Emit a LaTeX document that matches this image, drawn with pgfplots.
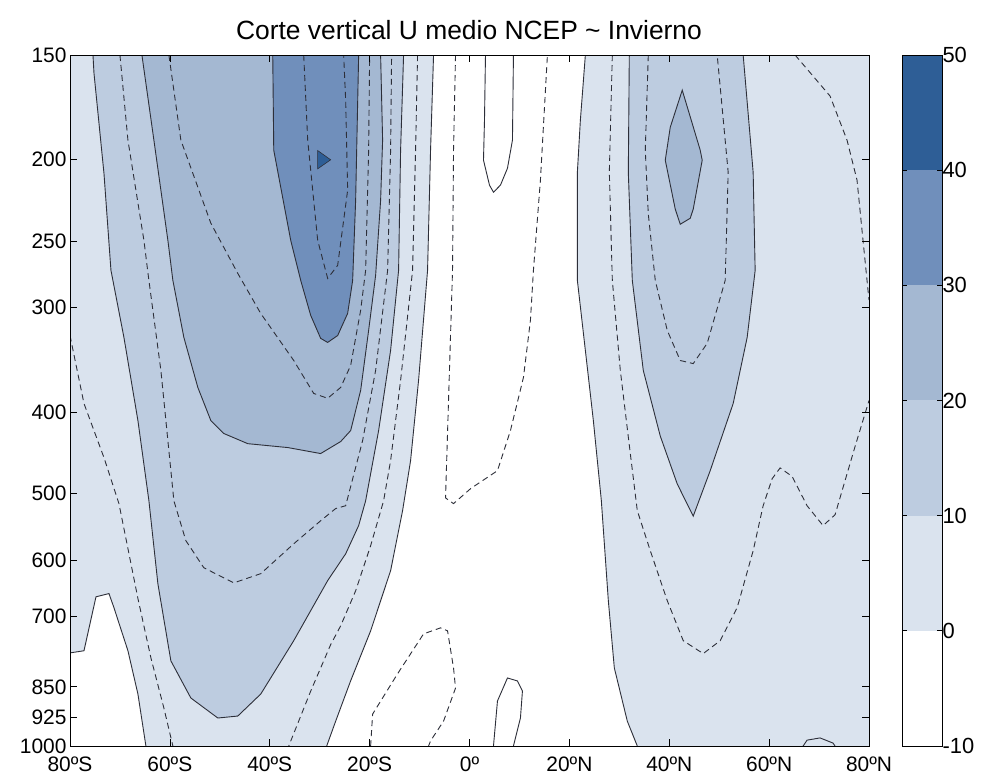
\documentclass[border=0pt]{standalone}
\usepackage{fontspec}
\setmainfont{Liberation Sans}
\usepackage{pgfplots}
\pgfplotsset{compat=1.18}
\definecolor{cA}{RGB}{218,227,238}
\definecolor{cB}{RGB}{189,204,224}
\definecolor{cC}{RGB}{164,184,210}
\definecolor{cD}{RGB}{112,143,187}
\definecolor{cE}{RGB}{46,94,150}
\definecolor{cline}{RGB}{45,47,57}
\tikzset{sol/.style={draw=cline, line width=0.9bp, fill=none},
         das/.style={draw=cline, line width=0.9bp, fill=none, dash pattern=on 6bp off 4bp}}
\begin{document}
\begin{tikzpicture}
\useasboundingbox (0,0) rectangle (983bp,778bp);
\node[font=\fontsize{26.5}{30}\selectfont] at (469bp,748bp) {Corte vertical U medio NCEP \textasciitilde{} Invierno};
\begin{axis}[
  at={(70bp,32bp)}, anchor=south west,
  scale only axis, width=799bp, height=691bp,
  xmin=-80, xmax=80, ymin=150, ymax=1000,
  ymode=log, y dir=reverse, yminorticks=false,
  xtick={-80,-60,...,80},
  xticklabels={80ºS,60ºS,40ºS,20ºS,0º,20ºN,40ºN,60ºN,80ºN},
  ytick={150,200,250,300,400,500,600,700,850,925,1000},
  yticklabels={150,200,250,300,400,500,600,700,850,925,1000},
  tick align=inside, xtick pos=both, ytick pos=both,
  xticklabel pos=lower, yticklabel pos=left,
  major tick length=7bp,
  tick style={line width=0.7bp, black},
  ticklabel style={font=\fontsize{21}{24}\selectfont},
  xticklabel style={yshift=-7bp},
  axis background/.style={fill=cA},
  axis line style={line width=0.8bp},
  axis on top,
]
% fills
\addplot[fill=white, draw=none] coordinates {(-80,774.5)(-77.2,770)(-74.8,664)(-72.2,658)(-71.2,684)(-68.4,770)(-66.4,867)(-64.8,1000)(-80,1000)};
\addplot[fill=cB, draw=none] coordinates {(-75.4,150)(-75.2,157.6)(-73.2,207.5)(-71.8,270.9)(-69.2,325.7)(-66.4,409.2)(-64.2,509.9)(-62.4,640.6)(-59.8,791.7)(-55.8,876.5)(-50.4,926)(-46.4,921)(-41.8,867)(-35.2,749)(-28.4,635)(-24.8,590)(-22.2,546)(-20.8,510)(-18.2,420.6)(-15.8,337.5)(-14.2,271)(-13.8,194.8)(-13.2,150)};
\addplot[fill=cC, draw=none] coordinates {(-65.6,150)(-63.2,189.5)(-60.4,249.5)(-59.4,278.5)(-57.2,325.7)(-54.4,373.7)(-51.8,409.2)(-49.2,424)(-44.4,436)(-36.4,440.7)(-29.8,448)(-25.8,433.5)(-23.8,420.6)(-21.8,376.8)(-20.2,319.5)(-18.8,274.7)(-17.8,223.5)(-17.4,189.5)(-17.8,150)};
\addplot[fill=cD, draw=none] coordinates {(-39.4,150)(-39.2,194.8)(-35.8,249.5)(-33.8,278.5)(-31.8,306.6)(-29.8,326.6)(-28.4,330.2)(-26.4,324)(-24.4,304.9)(-23.4,278.5)(-22.8,223.5)(-22.2,150)};
\addplot[fill=cE, draw=cline, line width=0.6bp] coordinates {(-30.4,195)(-30.4,205)(-27.8,200)} -- cycle;
\addplot[fill=white, draw=none] coordinates {(-7.2,150)(-7.8,194.8)(-8.4,271)(-10.2,366.6)(-11.8,456.8)(-13.4,524)(-15.8,618)(-19.8,729)(-23.8,836)(-26.8,934)(-28.6,1000)(33.6,1000)(31.6,934)(29,807)(27.8,671)(26.4,509.9)(24.8,409.2)(23.2,337.5)(21.6,278.5)(21.6,207)(22.2,179.4)(23.2,150)};
\addplot[fill=cA, sol] coordinates {(4.8,1000)(5.6,883.7)(7.6,829.6)(9.6,836.4)(10.6,859.8)(10.2,926)(8.8,1000)};
\addplot[fill=cB, draw=none] coordinates {(32,150)(31.8,207)(32.6,278.5)(34.8,356.6)(38.2,427)(41.6,487)(44.8,532)(48.2,469.5)(52.8,390.5)(55.6,325.7)(57.2,271)(56.8,207)(54.8,150)};
\addplot[fill=cC, draw=cline, line width=0.9bp] coordinates {(42.6,165.2)(46.2,194.8)(46.6,200.2)(44.8,229)(44.2,234.8)(42.2,238.7)(41.2,229)(39.2,200.2)(40.2,182.9)} -- cycle;
% solid contours
\addplot[sol] coordinates {(-80,774.5)(-77.2,770)(-74.8,664)(-72.2,658)(-71.2,684)(-68.4,770)(-66.4,867)(-64.8,1000)};
\addplot[sol] coordinates {(-75.4,150)(-75.2,157.6)(-73.2,207.5)(-71.8,270.9)(-69.2,325.7)(-66.4,409.2)(-64.2,509.9)(-62.4,640.6)(-59.8,791.7)(-55.8,876.5)(-50.4,926)(-46.4,921)(-41.8,867)(-35.2,749)(-28.4,635)(-24.8,590)(-22.2,546)(-20.8,510)(-18.2,420.6)(-15.8,337.5)(-14.2,271)(-13.8,194.8)(-13.2,150)};
\addplot[sol] coordinates {(-65.6,150)(-63.2,189.5)(-60.4,249.5)(-59.4,278.5)(-57.2,325.7)(-54.4,373.7)(-51.8,409.2)(-49.2,424)(-44.4,436)(-36.4,440.7)(-29.8,448)(-25.8,433.5)(-23.8,420.6)(-21.8,376.8)(-20.2,319.5)(-18.8,274.7)(-17.8,223.5)(-17.4,189.5)(-17.8,150)};
\addplot[sol] coordinates {(-39.4,150)(-39.2,194.8)(-35.8,249.5)(-33.8,278.5)(-31.8,306.6)(-29.8,326.6)(-28.4,330.2)(-26.4,324)(-24.4,304.9)(-23.4,278.5)(-22.8,223.5)(-22.2,150)};
\addplot[sol] coordinates {(-7.2,150)(-7.8,194.8)(-8.4,271)(-10.2,366.6)(-11.8,456.8)(-13.4,524)(-15.8,618)(-19.8,729)(-23.8,836)(-26.8,934)(-28.6,1000)};
\addplot[sol] coordinates {(3.2,150)(3.0,179.4)(2.8,200.2)(4,214.4)(4.8,218.6)(6.2,214.4)(7.6,204.7)(8.6,189.5)(8.8,150)};
\addplot[sol] coordinates {(23.2,150)(22.2,179.4)(21.6,207)(21.6,278.5)(23.2,337.5)(24.8,409.2)(26.4,509.9)(27.8,671)(29,807)(31.6,934)(33.6,1000)};
\addplot[sol] coordinates {(32,150)(31.8,207)(32.6,278.5)(34.8,356.6)(38.2,427)(41.6,487)(44.8,532)(48.2,469.5)(52.8,390.5)(55.6,325.7)(57.2,271)(56.8,207)(54.8,150)};
\addplot[sol] coordinates {(66.8,1000)(67.6,984)(70.2,978)(72.8,992)(73.2,1000)};
% dashed contours
\addplot[das] coordinates {(-80,324)(-77.2,390.5)(-73.2,453)(-70.2,514)(-66.4,667)(-63.8,785)(-61.2,901)(-59.4,1000)};
\addplot[das] coordinates {(-70,150)(-68.4,189.5)(-65.2,249.5)(-64.2,278.5)(-61.8,356.6)(-59.2,510)(-56.8,569)(-53.2,613)(-47.2,639)(-41.8,623)(-35.2,574)(-29.8,538.7)(-26.8,521)(-24.8,517)(-21.4,432.3)(-18.8,356.6)(-16.4,271)(-15.8,195)(-15.6,150)};
\addplot[das] coordinates {(-60.2,150)(-57.8,189.5)(-51.8,238)(-46.4,273.2)(-41.8,305)(-35.2,347)(-31.2,379.9)(-28.4,385)(-25.8,373.7)(-23.8,351.8)(-21.8,302.4)(-20.8,270.9)(-20.2,194.8)(-20,150)};
\addplot[das] coordinates {(-33.2,150)(-32.4,189.5)(-30.4,249.5)(-28.4,277)(-26.4,267.2)(-24.4,217.4)(-24.8,169.8)(-25.2,150)};
\addplot[das] coordinates {(-10.4,150)(-10.8,194.8)(-11.4,271)(-13.8,366.6)(-15.8,456.8)(-17.2,510)(-19.8,577)(-22.8,653)(-25.8,719)(-27.8,757)(-31.8,860)(-36.2,1000)};
\addplot[das] coordinates {(-2.8,150)(-3.2,194.8)(-3.4,271)(-4.2,387.3)(-4.8,506)(-3.2,514)(0.2,493.4)(5.6,469.5)(8.2,420.6)(10.8,363.6)(12.2,310.8)(12.8,271)(14.2,211.5)(15.6,150)};
\addplot[das] coordinates {(-19.8,1000)(-19.4,916)(-14.4,820)(-9.2,735)(-5.8,723)(-4.4,729)(-3.2,807)(-2.8,853)(-5.2,934)(-7.8,986)(-8.2,1000)};
\addplot[das] coordinates {(28.6,150)(28,207)(28.6,278.5)(30.2,356.6)(32.2,448)(33.6,524)(36.2,585)(39.6,671)(42.8,749)(46.8,776)(50.2,749)(53.6,684)(56.8,585)(58.8,517)(60.6,480)(62.2,466)(64.6,477)(67.6,517)(70.8,546)(73.2,530)(75.2,482.6)(77.2,439.5)(80,387.3)};
\addplot[das] coordinates {(35.8,150)(35.2,194.8)(35.8,232)(37.2,278.5)(39.6,319.5)(42.2,347)(44.8,350)(47.6,331)(49.6,300.8)(51.2,278.5)(51.8,207)(49.6,150)};
\addplot[das] coordinates {(65.2,150)(72.2,167.9)(75.6,189.5)(77.6,211.5)(78.8,249.5)(79.6,278.5)(80,294)};
\end{axis}
\begin{axis}[
  at={(902bp,32bp)}, anchor=south west,
  scale only axis, width=40bp, height=691bp,
  xmin=0, xmax=1, ymin=-10, ymax=50,
  xtick=\empty,
  ytick={-10,0,10,20,30,40,50},
  yticklabels={-10,0,10,20,30,40,50},
  ytick pos=both, yticklabel pos=right, tick align=inside,
  major tick length=5bp,
  tick style={line width=0.7bp, black},
  ticklabel style={font=\fontsize{22}{24}\selectfont},
  yticklabel style={xshift=-3bp},
  axis line style={line width=0.8bp},
  axis on top,
]
\addplot[fill=white, draw=none] coordinates {(0,-10)(1,-10)(1,0)(0,0)} -- cycle;
\addplot[fill=cA, draw=none] coordinates {(0,0)(1,0)(1,10)(0,10)} -- cycle;
\addplot[fill=cB, draw=none] coordinates {(0,10)(1,10)(1,20)(0,20)} -- cycle;
\addplot[fill=cC, draw=none] coordinates {(0,20)(1,20)(1,30)(0,30)} -- cycle;
\addplot[fill=cD, draw=none] coordinates {(0,30)(1,30)(1,40)(0,40)} -- cycle;
\addplot[fill=cE, draw=none] coordinates {(0,40)(1,40)(1,50)(0,50)} -- cycle;
\end{axis}
\end{tikzpicture}
\end{document}
